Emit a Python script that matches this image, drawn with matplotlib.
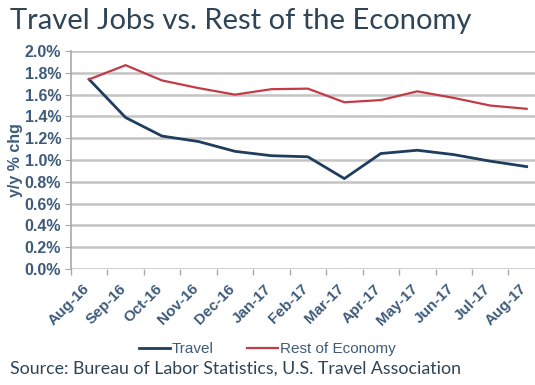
import matplotlib.pyplot as plt
from matplotlib.ticker import FuncFormatter
from matplotlib.transforms import ScaledTranslation

months = ['Aug-16', 'Sep-16', 'Oct-16', 'Nov-16', 'Dec-16', 'Jan-17', 'Feb-17',
          'Mar-17', 'Apr-17', 'May-17', 'Jun-17', 'Jul-17', 'Aug-17']
travel = [1.74, 1.39, 1.22, 1.17, 1.08, 1.04, 1.03, 0.83, 1.06, 1.09, 1.05, 0.99, 0.94]
rest = [1.74, 1.87, 1.73, 1.66, 1.60, 1.65, 1.655, 1.53, 1.55, 1.63, 1.57, 1.50, 1.47]

NAVY = '#1f3d5e'
RED = '#c23b46'
TEXT = '#3e5b7a'
GRID = '#c4c4c4'

plt.rcParams['font.family'] = ['Liberation Sans Narrow', 'Liberation Sans', 'DejaVu Sans']

fig = plt.figure(figsize=(5.35, 3.85), dpi=100)
ax = fig.add_axes([0.1325, 0.301, 0.886, 0.5665])

x = list(range(len(months)))
ax.plot(x, travel, color=NAVY, lw=2.0, label='Travel')
ax.plot(x, rest, color=RED, lw=1.6, label='Rest of Economy')

ax.set_xlim(-0.5, len(months) - 0.5)
ax.set_ylim(0, 2.0)
ax.set_yticks([i * 0.2 for i in range(11)])
ax.yaxis.set_major_formatter(FuncFormatter(lambda v, _: f'{v:.1f}%'))
ax.grid(axis='y', color=GRID, lw=1.8)
ax.set_axisbelow(True)

# category ticks sit on the boundaries, labels on the centres
ax.set_xticks([i - 0.5 for i in range(len(months) + 1)])
ax.set_xticklabels([])
ax.set_xticks(x, minor=True)
ax.set_xticklabels(months, minor=True, rotation=45, ha='right', rotation_mode='anchor',
                   color=TEXT, fontsize=11, fontweight='bold')
ax.tick_params(axis='x', which='minor', length=0, pad=9)
ax.tick_params(axis='x', which='major', length=4, color='#a8a8a8', width=1)
ax.tick_params(axis='y', length=4, color='#a8a8a8', labelcolor=TEXT, labelsize=11.5, pad=3)
for lbl in ax.get_yticklabels():
    lbl.set_fontweight('bold')

# nudge the slanted month labels a little to the left
shift = ScaledTranslation(-7 / 100, 0, fig.dpi_scale_trans)
for lbl in ax.get_xticklabels(minor=True):
    lbl.set_transform(lbl.get_transform() + shift)

for side in ['top', 'right']:
    ax.spines[side].set_visible(False)
ax.spines['left'].set_color('#a8a8a8')
ax.spines['left'].set_linewidth(1.2)
ax.spines['bottom'].set_visible(False)

ax.set_ylabel('y/y % chg', color=TEXT, fontsize=11.5, fontweight='bold', labelpad=1)

fig.text(0.018, 0.925, 'Travel Jobs vs. Rest of the Economy', color='#2e4457',
         fontsize=21, family=['Lato', 'DejaVu Sans'])

fig.legend(loc='center', bbox_to_anchor=(0.5, 0.093), ncol=2, frameon=False,
           handlelength=2.0, handletextpad=0.15, columnspacing=2.2,
           prop={'size': 11}, labelcolor=TEXT)

fig.text(0.018, 0.03, 'Source: Bureau of Labor Statistics, U.S. Travel Association',
         color='#2e4457', fontsize=12.8, family=['Lato', 'DejaVu Sans'])

fig.savefig('out.png', dpi=100)
